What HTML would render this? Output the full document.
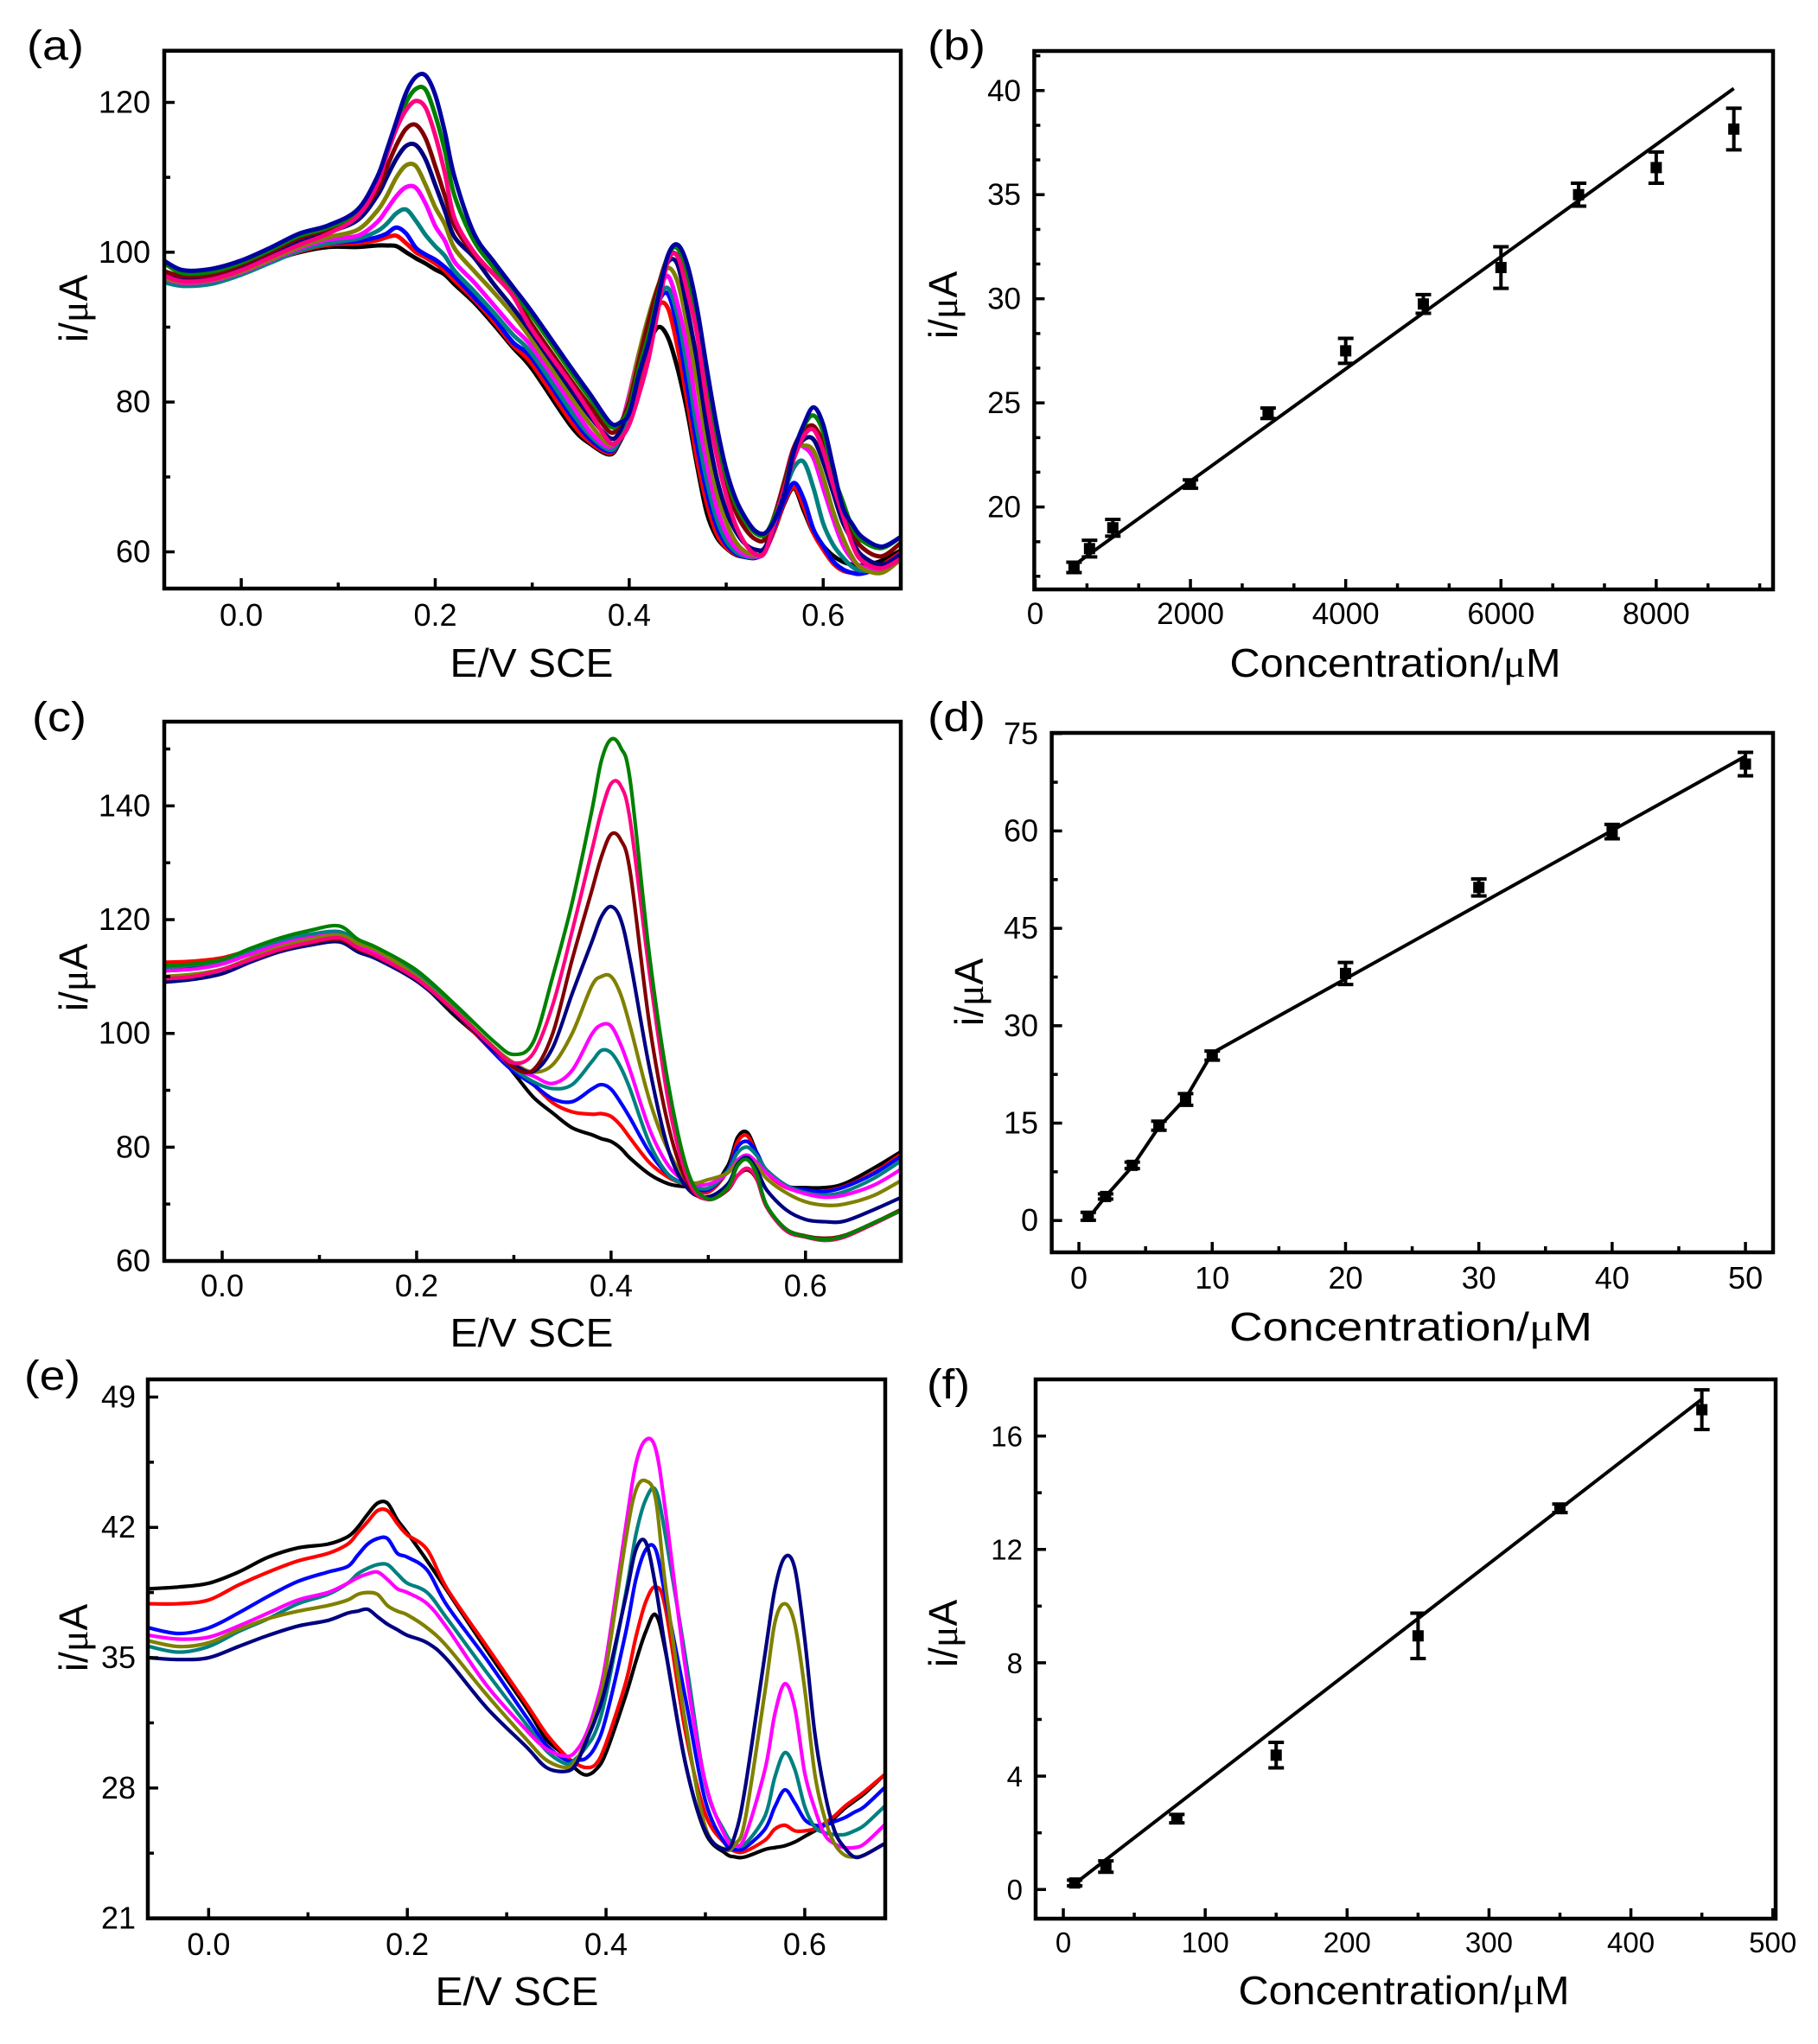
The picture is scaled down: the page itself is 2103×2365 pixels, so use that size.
<!DOCTYPE html>
<html lang="en">
<head>
<meta charset="utf-8">
<title>Voltammetry and calibration charts</title>
<style>
html,body{margin:0;padding:0;background:#fff;width:2103px;height:2365px;overflow:hidden}
svg{display:block}
text{font-family:"Liberation Sans",Arial,sans-serif;fill:#000}
.title{font-size:46px}
.panel{font-size:48px}
.mu{font-family:"Liberation Serif",serif}
</style>
</head>
<body>
<svg id="figure" xmlns="http://www.w3.org/2000/svg" width="2103" height="2365" viewBox="0 0 2103 2365">
<rect width="2103" height="2365" fill="#fff"/>
<g id="chart-a"></g>
<g id="chart-b"></g>
<g id="chart-c"></g>
<g id="chart-d"></g>
<g id="chart-e"></g>
<g id="chart-f"></g>

<text class="panel" x="31" y="69" textLength="66" lengthAdjust="spacingAndGlyphs">(a)</text>
<text class="panel" x="1073" y="69" textLength="67" lengthAdjust="spacingAndGlyphs">(b)</text>
<text class="panel" x="37" y="846" textLength="63" lengthAdjust="spacingAndGlyphs">(c)</text>
<text class="panel" x="1073" y="846" textLength="67" lengthAdjust="spacingAndGlyphs">(d)</text>
<text class="panel" x="28" y="1608" textLength="65" lengthAdjust="spacingAndGlyphs">(e)</text>
<text class="panel" x="1072" y="1618" textLength="50" lengthAdjust="spacingAndGlyphs">(f)</text>

<text class="title" x="615" y="783" text-anchor="middle" textLength="189" lengthAdjust="spacingAndGlyphs">E/V SCE</text>
<text class="title" x="1614" y="783" text-anchor="middle" textLength="383" lengthAdjust="spacingAndGlyphs">Concentration/<tspan class="mu">μ</tspan>M</text>
<text class="title" x="615" y="1558" text-anchor="middle" textLength="189" lengthAdjust="spacingAndGlyphs">E/V SCE</text>
<text class="title" x="1632" y="1551" text-anchor="middle" textLength="420" lengthAdjust="spacingAndGlyphs">Concentration/<tspan class="mu">μ</tspan>M</text>
<text class="title" x="598" y="2320" text-anchor="middle" textLength="189" lengthAdjust="spacingAndGlyphs">E/V SCE</text>
<text class="title" x="1624" y="2319" text-anchor="middle" textLength="383" lengthAdjust="spacingAndGlyphs">Concentration/<tspan class="mu">μ</tspan>M</text>

<text class="title" text-anchor="middle" transform="translate(101,357) rotate(-90)">i/<tspan class="mu">μ</tspan>A</text>
<text class="title" text-anchor="middle" transform="translate(1107,353) rotate(-90)">i/<tspan class="mu">μ</tspan>A</text>
<text class="title" text-anchor="middle" transform="translate(101,1131) rotate(-90)">i/<tspan class="mu">μ</tspan>A</text>
<text class="title" text-anchor="middle" transform="translate(1137,1148) rotate(-90)">i/<tspan class="mu">μ</tspan>A</text>
<text class="title" text-anchor="middle" transform="translate(101,1895) rotate(-90)">i/<tspan class="mu">μ</tspan>A</text>
<text class="title" text-anchor="middle" transform="translate(1107,1890) rotate(-90)">i/<tspan class="mu">μ</tspan>A</text>
</svg>

<script>
/* ---------- panel (a) data ---------- */
const aPotential=[-0.08,-0.06,-0.03,0,0.03,0.06,0.09,0.12,0.14,0.15,0.16,0.17,0.18,0.19,0.2,0.21,0.22,0.24,0.26,0.28,0.3,0.34,0.36,0.38,0.39,0.4,0.41,0.42,0.43,0.44,0.45,0.46,0.47,0.48,0.49,0.5,0.51,0.52,0.53,0.54,0.55,0.56,0.57,0.58,0.59,0.6,0.61,0.62,0.63,0.64,0.66,0.68];
const aBlack=[96.8,96,96.3,97.4,98.8,100,100.7,100.7,100.9,100.9,100.8,100,99.2,98.5,97.7,97,95.7,93.3,90.4,87.3,84.4,76.8,74.4,73,74.6,77.6,82.5,87.5,90,88.6,84.4,78.6,71.5,65.2,62,60.5,59.6,59.3,59.3,60.3,63,66.5,68.5,65.5,62.5,60.8,59.5,58.7,58.3,58.2,58.8,60.2];
const aRed=[96.2,95.8,96.1,97.2,98.7,100.1,101,101.2,101.6,102,102.2,101.2,100,99.3,98.5,97.5,96.2,93.7,90.8,87.6,85,77.4,74.6,73.2,74.8,78,82.8,88,92.8,92.5,87.2,80,72.3,66.5,62.5,60.6,59.7,59.3,59.2,60.1,63,66.7,68.6,66,62.5,60.3,58.5,57.5,57.2,57.2,58.2,59.9];
const aBlue=[96.1,95.6,96,97.2,98.8,100.3,101.2,101.5,102,102.5,103.3,102.5,100.6,99.7,99,98,96.8,94,91.3,88,85.8,78.2,75,73.4,74.9,78.5,83.5,88.5,93.3,94.4,89.7,82,74.2,68,63.5,61,59.8,59.3,59.2,60,63.5,67,69.2,67,63,60.8,58.8,57.7,57.2,57.1,58,59.7];
const aTeal=[96,95.5,95.8,97,98.6,100.2,101.2,101.8,102.8,103.8,105.2,105.7,104.2,102.3,100.8,99.5,97.5,94.8,92,89,86.4,78.8,75.5,73.6,75,78.5,83.5,88.7,93.6,95.2,91.5,84.5,76.3,69.5,64.5,61.5,60,59.4,59.3,60,64,68,71.3,72,68.5,63.8,61,59.3,58,57.5,57.6,59.3];
const aMagenta=[96.5,95.9,96.2,97.3,98.9,100.5,101.7,102.2,104,105.7,107.5,108.7,108.6,106.5,103.5,101.5,98.7,96,93,90,87.3,79.8,76,74,76.2,81,86.5,90.5,94.6,96.8,93,87,78.7,71.8,66,62.5,60.5,59.6,59.4,60,64.8,69.5,74,74,72.5,68.5,64.5,61,59,58,57.5,59.2];
const aOlive=[96.6,96,96.3,97.4,99,100.7,102,103,105.5,107.5,110,111.6,111.5,109,106,103.7,100.5,97.5,94.7,91.7,88.2,80.7,77,74.3,76,80.5,86.5,91.5,95.6,97.9,96,90,82.5,74.4,68,64,61.3,60,59.6,60,64.5,69.5,73.5,74.2,73.5,70,65.5,62,59.3,57.8,57.2,59];
const aNavy=[97.3,96.5,96.8,98.1,99.8,101.6,102.7,104.3,107.5,110,112.5,114.2,114.3,112.4,109,105.5,102,99.3,95.8,92.6,89.1,81.6,78,75.2,76,79.5,84.5,90.5,95.2,98.7,98.3,92.3,85.5,76.7,70,65.5,62.7,61,60.3,60.6,64.3,68.5,73,75,75,72,68,64,61.5,59.5,58.3,59.5];
const aDarkRed=[97.5,96.8,97,98.3,100,101.9,103.1,105,108.2,111.3,114.3,116.5,117,115.2,111.5,107.5,103.5,99.7,97.1,94.3,90.3,82.9,79.4,76,77,80,85.5,90.8,95.5,99.4,99.5,95.7,90,81,74,69,65.3,63,61.7,61.7,65,69.3,74,76.2,76.8,74.5,70,66,62.7,60.6,59.4,61.2];
const aGreen=[98.6,97.2,97.4,98.6,100.3,102.2,103.3,105.3,109.5,113,116.6,120,121.8,121.7,118.3,113.5,107.5,101.5,98,94.6,91.4,84,80.4,76.8,77.2,79.2,84.5,89,94.5,99.6,100.5,96.8,91,82.3,75.4,70,66.3,64,62.5,62.3,64.8,68.5,73.5,76.8,78.2,76,70.5,66.8,63.3,61.5,60.5,62];
const aPink=[96.9,96.1,96.4,97.6,99.3,101,102.5,104.8,109,113,116.5,119,120.2,119.3,115.6,110.5,104.5,100,97.1,94.2,89.6,82.4,78.5,74.6,75,77,81,85.8,92.5,98.9,99.4,94.7,89,80,73,67.5,63.5,61,59.7,60,64,68.5,72.5,75.5,76.3,73.5,69,65,61,58.8,57.8,59.1];
const aDeepBlue=[98.9,97.6,97.8,98.9,100.6,102.5,103.6,105.7,110,113.6,117.5,121.3,123.4,123.6,121,116,110,102.5,98.8,95.4,92,84.6,81,77.3,77.2,78.5,83.7,88,94,99.6,101,98.3,92.5,84.5,77,71,67,64.5,62.8,62.5,64.3,67.8,73.5,77,79.3,77,71.5,66,63.7,62,60.7,62];
const aXTicks=[0,0.2,0.4,0.6];
const aXTickLabels=['0.0','0.2','0.4','0.6'];
const aXMinor=[0.1,0.3,0.5];
const aYTicks=[60,80,100,120];
const aYTickLabels=['60','80','100','120'];
const aYMinor=[70,90,110];

/* ---------- panel (b) data ---------- */
const bConcentration=[500,700,1000,2000,3000,4000,5000,6000,7000,8000,9000];
const bCurrent=[17.1,18,19,21.1,24.5,27.5,29.75,31.5,35,36.3,38.15];
const bError=[0.25,0.4,0.4,0.2,0.25,0.6,0.45,1,0.55,0.75,1];
const bFitX=[500,9000];
const bFitY=[17.2,40.1];
const bXTicks=[0,2000,4000,6000,8000];
const bXTickLabels=['0','2000','4000','6000','8000'];
const bXMinor=[667,1333,2667,3333,4667,5333,6667,7333,8667,9333];
const bYTicks=[20,25,30,35,40];
const bYTickLabels=['20','25','30','35','40'];
const bYMinor=[16.67,18.33,21.67,23.33,26.67,28.33,31.67,33.33,36.67,38.33,41.67];

/* ---------- panel (c) data ---------- */
const cPotential=[-0.06,-0.03,0,0.03,0.06,0.09,0.12,0.14,0.16,0.2,0.24,0.28,0.3,0.32,0.34,0.36,0.38,0.39,0.4,0.41,0.42,0.44,0.46,0.48,0.5,0.52,0.53,0.54,0.55,0.56,0.58,0.6,0.62,0.64,0.67,0.7];
const cBlack=[111,111.4,112.4,114,115.5,116.5,117,115,113.5,109.5,103,97,93,88.8,86,83.4,82.2,81.5,81,79.8,78,75.2,73.5,73,72.5,76.7,81.7,82.6,79,75.9,73.2,72.9,72.9,73.6,76.3,79.4];
const cRed=[112.5,112.7,113.3,114.7,116,116.9,117.2,115.5,114,109.8,103.5,96.5,93.5,91,87.8,86.2,85.8,85.9,85.4,83.8,81.5,77.2,74.6,73.2,72.1,75.9,80.9,82,78.6,75.5,72.9,72.3,72.3,73.1,75.5,79];
const cBlue=[111.7,112,112.9,114.8,116.6,117.4,117.6,115.8,114.2,110.2,104,96.5,93.3,91,88.5,88,90.2,91,90.2,87.8,85,79,75,73.3,72.5,76,80,81,79,75.8,73.2,72.5,72.2,73,75.3,78.6];
const cTeal=[111.5,112,112.8,114.5,116.3,117.4,117.9,116.3,114.8,110.6,104.3,97,93.8,91.5,90.3,91,95,97,96.6,94,90,80.5,75,73.4,72.8,75.8,79,80,78.5,76,73.3,72,71.6,72.2,74.5,77.8];
const cMagenta=[111,111.3,112.2,114,115.7,116.8,117.3,115.5,114,110,103.8,97,94,92.5,91.2,93.5,99.8,101.5,101.3,98,93.3,83,76.5,73.8,73.5,75.5,77.7,78.6,77.3,75.5,73,71.8,71.2,71.6,73.3,76.3];
const cOlive=[110,110.4,111.3,113.3,115.2,116.5,117.3,115.8,114.5,110,104,97.5,94.8,93.2,94.5,100,108.3,110,110,106.8,101,88,79,74,74.3,75.5,77.3,77.9,76.8,74.5,72,70.4,69.8,70,71.5,74.3];
const cNavy=[109,109.5,110.5,112.6,114.4,115.5,116.1,114.3,113,109.2,103.5,97,94.5,93.3,97.5,107,116,120.5,122.3,120,112.5,93.5,79,72.5,71.3,73.5,77,78.2,76,72.5,69,67.3,66.9,67,69,71.3];
const cDarkRed=[109.6,110,111.2,113,114.7,115.9,116.5,114.8,113.4,109.5,103.7,97.3,94,93.6,100,113,125,131,135,134,128,101,83,73.3,70.8,72.5,75,76,74.3,69.5,65.6,64.4,64,64.5,66.7,69.2];
const cPink=[109.6,110,111.2,113,114.8,116,116.8,115,113.5,109.6,103.8,97.3,94.8,96.5,105,118,132,139,143.9,143.5,137,110,87,74,70.8,72.7,75,76.3,74.5,69.5,65.3,64.2,63.6,64.2,66.5,69];
const cGreen=[111.9,112.2,113,115,116.8,118.1,118.9,116.5,115,111.1,105,98.5,96.3,98.5,110,123,139,147.9,151.7,150.2,144,113,90,75.2,70.9,72.9,76.7,77.8,75.2,69.8,65.6,64.3,63.8,64.4,66.7,69];
const cXTicks=[0,0.2,0.4,0.6];
const cXTickLabels=['0.0','0.2','0.4','0.6'];
const cXMinor=[0.1,0.3,0.5];
const cYTicks=[60,80,100,120,140];
const cYTickLabels=['60','80','100','120','140'];
const cYMinor=[70,90,110,130,150];

/* ---------- panel (d) data ---------- */
const dConcentration=[0.7,2,4,6,8,10,20,30,40,50];
const dCurrent=[0.65,3.7,8.5,14.6,18.65,25.4,38.05,51.3,59.9,70.3];
const dError=[0.6,0.4,0.5,0.7,0.9,0.7,1.7,1.3,1.1,1.8];
const dFitX=[0.7,2,4,6,8,10,50];
const dFitY=[0.3,3.7,8.3,14.4,18.8,25.8,71.5];
const dXTicks=[0,10,20,30,40,50];
const dXTickLabels=['0','10','20','30','40','50'];
const dXMinor=[5,15,25,35,45];
const dYTicks=[0,15,30,45,60,75];
const dYTickLabels=['0','15','30','45','60','75'];
const dYMinor=[7.5,22.5,37.5,52.5,67.5];

/* ---------- panel (e) data ---------- */
const ePotential=[-0.06,-0.03,0,0.03,0.06,0.09,0.12,0.14,0.15,0.16,0.17,0.18,0.19,0.2,0.22,0.24,0.28,0.32,0.34,0.36,0.37,0.38,0.39,0.4,0.42,0.43,0.44,0.45,0.46,0.48,0.5,0.52,0.53,0.54,0.56,0.57,0.58,0.59,0.6,0.61,0.62,0.63,0.64,0.65,0.66,0.68];
const eBlack=[38.7,38.8,39,39.6,40.4,40.9,41.1,41.5,42,42.7,43.3,43.3,42.4,41.7,40.2,38.6,35.4,32.3,30.6,29.7,29,28.7,29,29.9,33,34.8,36.4,37.3,35.3,29.3,25.6,24.5,24.3,24.3,24.7,24.8,24.9,25.1,25.4,25.7,26,26.4,26.9,27.3,27.7,28.7];
const eRed=[37.9,37.9,38.1,38.9,39.6,40.2,40.6,41.1,41.7,42.3,42.9,42.9,42.2,41.6,40.8,38.7,35.6,32.5,30.9,29.7,29.3,29.1,29.3,30.4,33.7,36.1,38,38.8,37.6,31,26.6,25,24.6,24.6,25.2,25.8,26,25.7,25.7,25.8,26.1,26.5,27,27.4,27.8,28.7];
const eBlue=[36.6,36.3,36.6,37.4,38.3,39.1,39.6,39.9,40.5,41.1,41.4,41.4,40.6,40.4,39.7,37.8,34.9,31.8,30.3,29.5,29.5,29.6,30.3,31.8,36.4,39.2,40.8,40.8,38.2,32.8,27.3,25,24.7,24.8,25.8,27,27.9,27.2,26.3,26,26,26.2,26.4,26.7,27,28];
const eTeal=[35.6,35.3,35.6,36.4,37.1,37.9,38.4,39,39.5,39.8,40,40,39.5,39,38.5,37.1,34.2,31.4,30,29.3,29.6,30.2,31.1,33,38.5,41.6,43.5,44,41.5,35,28.2,25.6,25,25,26.5,28.6,29.9,29,27,25.9,25.6,25.5,25.5,25.7,26,27];
const eMagenta=[36.2,36,36.1,36.7,37.4,38.1,38.5,39,39.3,39.5,39.6,39.2,38.7,38.5,37.9,36.6,33.5,31.1,30.1,29.7,30,30.9,32.5,34.9,42.1,45.4,46.7,46.2,42.8,34.4,28.3,25.4,24.9,25.4,29,32,33.6,32.3,28.8,26.9,25.5,25,24.8,24.8,25,26];
const eOlive=[35.9,35.6,35.8,36.5,37.1,37.5,37.8,38.1,38.4,38.5,38.4,37.8,37.5,37.3,36.6,35.6,33,30.6,29.5,29.1,29.5,30.6,32.1,34.4,41.4,44,44.5,43.5,38.8,31.5,25.9,24.7,25,26.3,33.2,36.9,37.9,36.8,33.3,28.8,26.4,25,24.4,24.3,24.4,25];
const eNavy=[35,34.9,35,35.6,36.2,36.7,37,37.4,37.5,37.6,37.2,36.8,36.5,36.2,35.8,34.9,32.3,30.2,29.1,28.9,29.3,30.5,31.8,33.5,38.3,40.8,41.2,38.8,35.4,29.3,25.7,24.7,25.5,28,35.2,38.7,40.4,39.8,36,31,27.8,25.7,24.8,24.3,24.4,25];
const eXTicks=[0,0.2,0.4,0.6];
const eXTickLabels=['0.0','0.2','0.4','0.6'];
const eXMinor=[0.1,0.3,0.5];
const eYTicks=[21,28,35,42,49];
const eYTickLabels=['21','28','35','42','49'];
const eYMinor=[24.5,31.5,38.5,45.5];

/* ---------- panel (f) data ---------- */
const fConcentration=[8,30,80,150,250,350,450];
const fCurrent=[0.23,0.81,2.5,4.74,8.95,13.45,16.93];
const fError=[0.1,0.2,0.15,0.45,0.8,0.15,0.7];
const fFitX=[8,450];
const fFitY=[0.2,17.3];
const fXTicks=[0,100,200,300,400,500];
const fXTickLabels=['0','100','200','300','400','500'];
const fXMinor=[50,150,250,350,450];
const fYTicks=[0,4,8,12,16];
const fYTickLabels=['0','4','8','12','16'];
const fYMinor=[2,6,10,14];

/* ---------- trace colours ---------- */
const traceColors={black:'#000000',red:'#ff0000',blue:'#0000ff',teal:'#008080',magenta:'#ff00ff',olive:'#808000',navy:'#000080',darkred:'#800000',pink:'#ff0080',green:'#008000',deepblue:'#0000a0'};

/* ---------- helpers ---------- */
const SVGNS='http://www.w3.org/2000/svg';
function make(parent,tag,attrs){
  const el=document.createElementNS(SVGNS,tag);
  for(const k in attrs){el.setAttribute(k,attrs[k]);}
  parent.appendChild(el);
  return el;
}
function linear(dMin,dMax,rMin,rMax){
  return function(v){return rMin+(v-dMin)*(rMax-rMin)/(dMax-dMin);};
}
function smoothPath(pts){
  let d='M'+pts[0][0].toFixed(2)+' '+pts[0][1].toFixed(2);
  for(let i=0;i<pts.length-1;i++){
    const p0=pts[Math.max(i-1,0)],p1=pts[i],p2=pts[i+1],p3=pts[Math.min(i+2,pts.length-1)];
    const c1x=p1[0]+(p2[0]-p0[0])/6,c1y=p1[1]+(p2[1]-p0[1])/6;
    const c2x=p2[0]-(p3[0]-p1[0])/6,c2y=p2[1]-(p3[1]-p1[1])/6;
    d+='C'+c1x.toFixed(2)+' '+c1y.toFixed(2)+' '+c2x.toFixed(2)+' '+c2y.toFixed(2)+' '+p2[0].toFixed(2)+' '+p2[1].toFixed(2);
  }
  return d;
}
function drawAxes(g,box,xS,yS,ax){
  const tickLayer=make(g,'g',{});
  
  
  function tick(x1,y1,x2,y2){
    const t=make(tickLayer,'line',{x1:x1,y1:y1,x2:x2,y2:y2,stroke:'#000','stroke-width':3.5});
    
    
  }
  ax.xTicks.forEach(function(v,i){
    const x=xS(v);
    tick(x,box.bottom,x,box.bottom-12);
    const label=make(g,'text',{x:x,y:ax.xLabelY,'text-anchor':'middle','font-size':ax.fontSize});
    
    
    label.textContent=ax.xLabels[i];
  });
  ax.xMinor.forEach(function(v){const x=xS(v);tick(x,box.bottom,x,box.bottom-7);});
  ax.yTicks.forEach(function(v,i){
    const y=yS(v);
    tick(box.left,y,box.left+12,y);
    const label=make(g,'text',{x:ax.yLabelX,y:y+12,'text-anchor':'end','font-size':ax.fontSize});
    
    
    label.textContent=ax.yLabels[i];
  });
  ax.yMinor.forEach(function(v){const y=yS(v);tick(box.left,y,box.left+7,y);});
}
function drawFrame(g,box){
  const frame=make(g,'rect',{x:box.left,y:box.top,width:box.right-box.left,height:box.bottom-box.top,fill:'none',stroke:'#000','stroke-width':4.5});
  
  
}
function drawTraces(id,box,dom,ax,xs,traces,width){
  const g=document.getElementById(id);
  const xS=linear(dom.x0,dom.x1,box.left,box.right);
  const yS=linear(dom.y0,dom.y1,box.bottom,box.top);
  const clipId=id+'-clip';
  const defs=make(g,'defs',{});
  const clip=make(defs,'clipPath',{id:clipId});
  make(clip,'rect',{x:box.left,y:box.top,width:box.right-box.left,height:box.bottom-box.top});
  const layer=make(g,'g',{'clip-path':'url(#'+clipId+')'});
  
  
  Object.keys(traces).forEach(function(name){
    const ys=traces[name];
    const pts=xs.map(function(x,i){return [xS(x),yS(ys[i])];});
    const path=make(layer,'path',{d:smoothPath(pts),fill:'none',stroke:traceColors[name],'stroke-width':width,'stroke-linejoin':'round','stroke-linecap':'round'});
    
    
  });
  drawAxes(g,box,xS,yS,ax);
  drawFrame(g,box);
}
function drawCalibration(id,box,dom,ax,xs,ys,errs,fitX,fitY){
  const g=document.getElementById(id);
  const xS=linear(dom.x0,dom.x1,box.left,box.right);
  const yS=linear(dom.y0,dom.y1,box.bottom,box.top);
  const fit=make(g,'polyline',{points:fitX.map(function(x,i){return xS(x).toFixed(2)+','+yS(fitY[i]).toFixed(2);}).join(' '),fill:'none',stroke:'#000','stroke-width':4,'stroke-linejoin':'round'});
  
  
  xs.forEach(function(x,i){
    const px=xS(x),hi=yS(ys[i]+errs[i]),lo=yS(ys[i]-errs[i]),py=yS(ys[i]);
    const bar=make(g,'path',{d:'M'+px+' '+lo+'V'+hi+'M'+(px-9)+' '+hi+'H'+(px+9)+'M'+(px-9)+' '+lo+'H'+(px+9),stroke:'#000','stroke-width':4,fill:'none'});
    
    
    const pt=make(g,'rect',{x:px-6.5,y:py-6.5,width:13,height:13,fill:'#000'});
    
    
  });
  drawAxes(g,box,xS,yS,ax);
  drawFrame(g,box);
}

/* ---------- render ---------- */
drawTraces('chart-a',{left:190,right:1042,top:58.7,bottom:681},{x0:-0.0794,x1:0.68,y0:55.1,y1:126.9},
  {xTicks:aXTicks,xLabels:aXTickLabels,xMinor:aXMinor,yTicks:aYTicks,yLabels:aYTickLabels,yMinor:aYMinor,xLabelY:724,yLabelX:174,fontSize:36},
  aPotential,{black:aBlack,red:aRed,blue:aBlue,teal:aTeal,magenta:aMagenta,olive:aOlive,navy:aNavy,darkred:aDarkRed,green:aGreen,pink:aPink,deepblue:aDeepBlue},5);

drawCalibration('chart-b',{left:1196.4,right:2051,top:59,bottom:682},{x0:-12,x1:9505,y0:16.04,y1:41.9},
  {xTicks:bXTicks,xLabels:bXTickLabels,xMinor:bXMinor,yTicks:bYTicks,yLabels:bYTickLabels,yMinor:bYMinor,xLabelY:722,yLabelX:1181,fontSize:35},
  bConcentration,bCurrent,bError,bFitX,bFitY);

drawTraces('chart-c',{left:190,right:1042,top:835,bottom:1459},{x0:-0.0596,x1:0.698,y0:60,y1:154.8},
  {xTicks:cXTicks,xLabels:cXTickLabels,xMinor:cXMinor,yTicks:cYTicks,yLabels:cYTickLabels,yMinor:cYMinor,xLabelY:1500,yLabelX:174,fontSize:36},
  cPotential,{black:cBlack,red:cRed,blue:cBlue,teal:cTeal,magenta:cMagenta,olive:cOlive,navy:cNavy,darkred:cDarkRed,pink:cPink,green:cGreen},4.2);

drawCalibration('chart-d',{left:1216.6,right:2051,top:848,bottom:1449},{x0:-2.04,x1:52.07,y0:-4.9,y1:75.1},
  {xTicks:dXTicks,xLabels:dXTickLabels,xMinor:dXMinor,yTicks:dYTicks,yLabels:dYTickLabels,yMinor:dYMinor,xLabelY:1491,yLabelX:1201,fontSize:36},
  dConcentration,dCurrent,dError,dFitX,dFitY);

drawTraces('chart-e',{left:171,right:1024,top:1596,bottom:2219.6},{x0:-0.0612,x1:0.681,y0:21,y1:49.95},
  {xTicks:eXTicks,xLabels:eXTickLabels,xMinor:eXMinor,yTicks:eYTicks,yLabels:eYTickLabels,yMinor:eYMinor,xLabelY:2262,yLabelX:157,fontSize:36},
  ePotential,{black:eBlack,red:eRed,blue:eBlue,teal:eTeal,magenta:eMagenta,olive:eOlive,navy:eNavy},4.2);

drawCalibration('chart-f',{left:1198,right:2054,top:1596,bottom:2220},{x0:-19.5,x1:502,y0:-1.03,y1:18},
  {xTicks:fXTicks,xLabels:fXTickLabels,xMinor:fXMinor,yTicks:fYTicks,yLabels:fYTickLabels,yMinor:fYMinor,xLabelY:2259,yLabelX:1183,fontSize:33},
  fConcentration,fCurrent,fError,fFitX,fFitY);
</script>
</body>
</html>
